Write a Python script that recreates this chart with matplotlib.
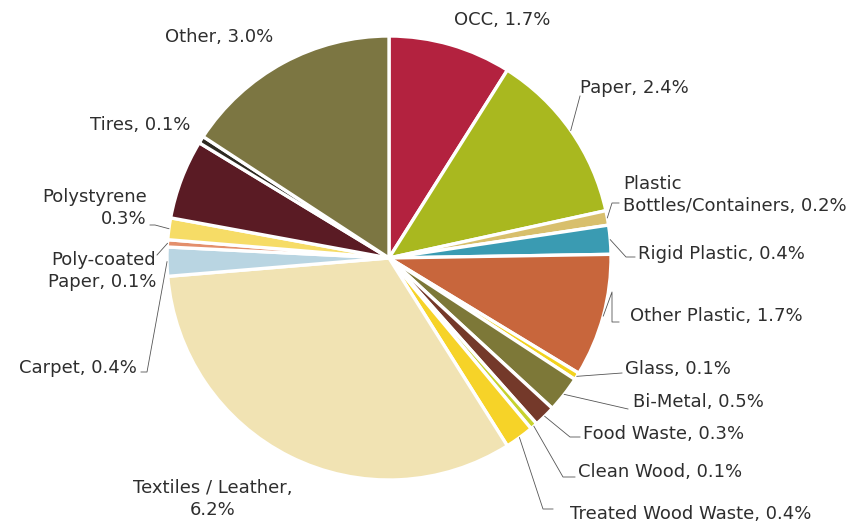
import matplotlib
matplotlib.use("Agg")
import matplotlib.pyplot as plt
import numpy as np

# Composition of the sample, share of total (%) - clockwise from 12 o'clock
categories = [
    "OCC", "Paper", "Plastic\nBottles/Containers", "Rigid Plastic",
    "Other Plastic", "Glass", "Bi-Metal", "Food Waste", "Clean Wood",
    "Treated Wood Waste", "Textiles / Leather", "Carpet",
    "Poly-coated\nPaper", "Polystyrene", "", "Tires", "Other",
]
shares = [1.7, 2.4, 0.2, 0.4, 1.7, 0.1, 0.5, 0.3, 0.1,
          0.4, 6.2, 0.4, 0.1, 0.3, 1.1, 0.1, 3.0]
colors = [
    "#b3223f", "#a9b81f", "#d8bf6c", "#3a9bb2",
    "#c8663c", "#f2d21e", "#7d7838", "#74392a", "#c7d22e",
    "#f6d328", "#f1e3b3", "#b9d5e2",
    "#e38f6c", "#f6dc66", "#5a1b24", "#2d2a22", "#7c7642",
]

W, H = 851, 527
CX, CY, R = 389, 258, 222  # pie centre / radius in pixels (y from top)


def px(x, y):
    return x, H - y


# label anchor (x, y from top), alignment, extra leader points
layout = {
    "OCC": ((502, 20), "center", None),
    "Paper": ((580, 88), "left", [(580, 96)]),
    "Plastic\nBottles/Containers": ((623, 195), "left", [(612, 203), (619, 203)]),
    "Rigid Plastic": ((638, 254), "left", [(626, 257), (635, 257)]),
    "Other Plastic": ((630, 316), "left", [(612, 292), (612, 322), (619, 322)]),
    "Glass": ((625, 369), "left", [(622, 373)]),
    "Bi-Metal": ((633, 402), "left", [(628, 409)]),
    "Food Waste": ((583, 434), "left", [(570, 437), (580, 437)]),
    "Clean Wood": ((578, 472), "left", [(563, 477), (575, 477)]),
    "Treated Wood Waste": ((570, 514), "left", [(543, 509), (553, 509)]),
    "Textiles / Leather": ((213, 499), "center", None),
    "Carpet": ((137, 368), "right", [(147, 372), (141, 372)]),
    "Poly-coated\nPaper": ((156, 271), "right", [(157, 255)]),
    "Polystyrene": ((147, 208), "right", [(155, 225), (150, 225)]),
    "Tires": ((190, 125), "right", None),
    "Other": ((219, 37), "center", None),
}


def label_text(name, value):
    if name == "Polystyrene":
        return f"{name}\n{value}%"
    if name == "Textiles / Leather":
        return f"{name},\n{value}%"
    return f"{name}, {value}%"


fig = plt.figure(figsize=(W / 100, H / 100), dpi=100)
ax = fig.add_axes([0, 0, 1, 1])

wedges, _ = ax.pie(
    shares,
    colors=colors,
    startangle=90,
    counterclock=False,
    center=px(CX, CY),
    radius=R,
    wedgeprops=dict(edgecolor="white", linewidth=2.4),
)

ax.set_xlim(0, W)
ax.set_ylim(0, H)
ax.set_aspect("equal")
ax.axis("off")

for wedge, name, value in zip(wedges, categories, shares):
    if not name:
        continue
    (tx, ty), ha, leader = layout[name]
    ax.text(tx, H - ty, label_text(name, value), ha=ha, va="center",
            multialignment=ha if ha != "center" else "center",
            fontsize=13, color="#2e2e2e", linespacing=1.25,
            family="DejaVu Sans")
    if leader:
        mid = np.deg2rad((wedge.theta1 + wedge.theta2) / 2)
        sx = wedge.center[0] + wedge.r * np.cos(mid)
        sy = wedge.center[1] + wedge.r * np.sin(mid)
        xs = [sx] + [p[0] for p in leader]
        ys = [sy] + [H - p[1] for p in leader]
        ax.plot(xs, ys, color="#555555", lw=0.6)

fig.savefig("out.png", dpi=100)
